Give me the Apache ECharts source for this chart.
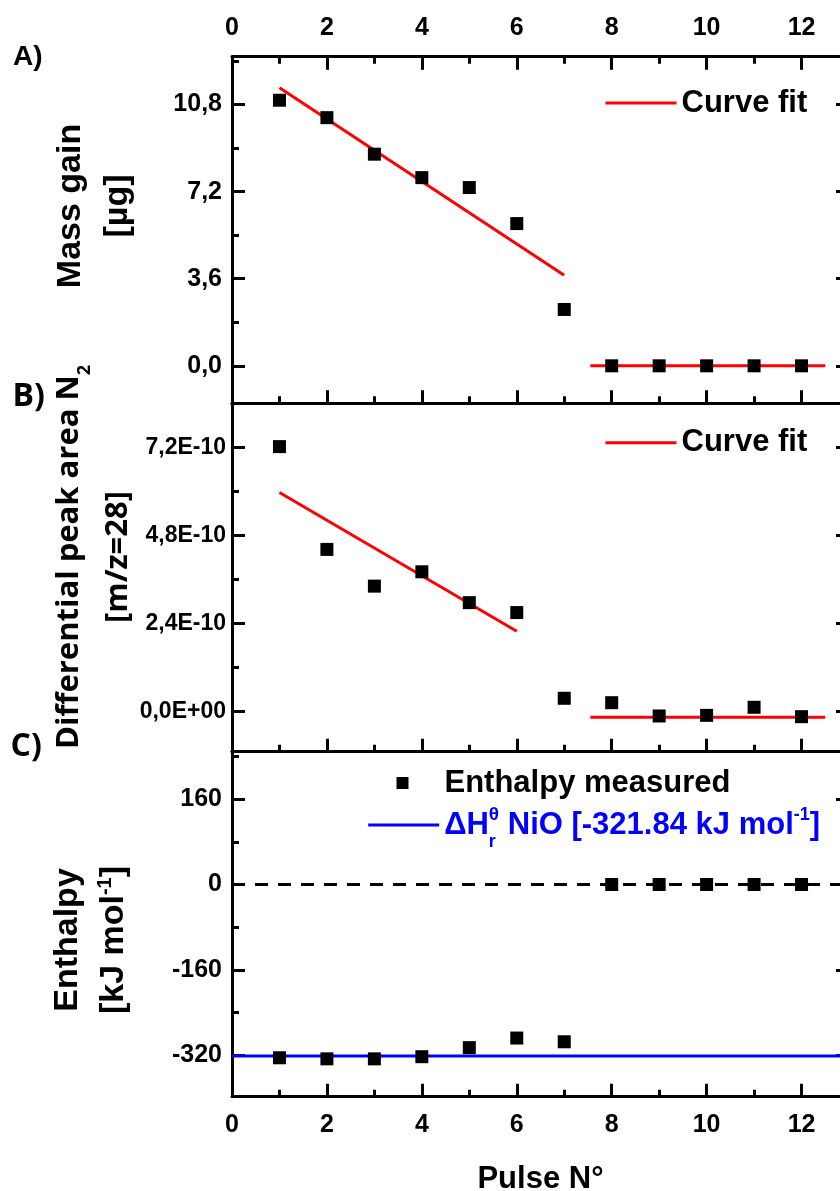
<!DOCTYPE html>
<html>
<head>
<meta charset="utf-8">
<script src="https://cdn.jsdelivr.net/npm/echarts@6/dist/echarts.min.js"></script>
<style>
  html, body { margin: 0; padding: 0; overflow: hidden; background: #fff; width: 840px; height: 1191px; }
  #chart { width: 870px; height: 1191px; }
</style>
</head>
<body>
<div id="chart"></div>
<script>
// ---- data ----
const pulses = [1, 2, 3, 4, 5, 6, 7, 8, 9, 10, 11, 12];

// A) mass gain per pulse [µg]
const massGain = [10.98, 10.26, 8.75, 7.78, 7.37, 5.88, 2.33, 0, 0, 0, 0, 0];
const massFitDecay = [[1, 11.5], [7, 3.74]];
const massFitPlateau = [[7.55, 0], [12.5, 0]];

// B) differential N2 peak area (m/z = 28)
const n2Area = [7.22e-10, 4.42e-10, 3.42e-10, 3.81e-10, 2.97e-10, 2.70e-10,
                0.365e-10, 0.245e-10, -0.117e-10, -0.10e-10, 0.12e-10, -0.136e-10];
const n2FitDecay = [[1, 5.97e-10], [6, 2.19e-10]];
const n2FitPlateau = [[7.55, -0.153e-10], [12.5, -0.153e-10]];

// C) measured enthalpy [kJ/mol] and the NiO reference value
const enthalpy = [-325, -327, -327, -323, -306, -288, -295, 0, 0, 0, 0, 0];
const nioEnthalpy = -321.84;
const zeroLine = [[0, 0], [13, 0]];
const nioLine = [[0, nioEnthalpy], [13, nioEnthalpy]];

// tick values
const xMajor = [0, 2, 4, 6, 8, 10, 12];
const xMinor = [1, 3, 5, 7, 9, 11];
const massMajor = [0, 3.6, 7.2, 10.8];
const massMinor = [1.8, 5.4, 9.0, 12.6];
const areaMajor = [0, 2.4e-10, 4.8e-10, 7.2e-10];
const areaMinor = [1.2e-10, 3.6e-10, 6.0e-10];
const enthalpyMajor = [-320, -160, 0, 160];
const enthalpyMinor = [-240, -80, 80, 240];

// ---- styling ----
const SANS = '"Liberation Sans", Arial, sans-serif';
const OPEN = '"Open Sans", sans-serif';
const RED = '#ff0000';
const BLUE = '#0000ff';

const panels = [
  { top: 56.7, height: 346.6, yMin: -1.55, yMax: 12.78, major: massMajor, minor: massMinor,
    fmt: v => v.toFixed(1).replace('.', ','), labelSize: 25, labelMargin: 10,
    topTicks: true, topLabels: true, bottomLabels: false },
  { top: 403.3, height: 348.4, yMin: -1.09e-10, yMax: 8.40e-10, major: areaMajor, minor: areaMinor,
    fmt: v => Math.abs(v) < 1e-14 ? '0,0E+00' : (v * 1e10).toFixed(1).replace('.', ',') + 'E-10',
    labelSize: 23, labelMargin: 6,
    topTicks: false, topLabels: false, bottomLabels: false },
  { top: 751.7, height: 345, yMin: -398, yMax: 249, major: enthalpyMajor, minor: enthalpyMinor,
    fmt: v => String(Math.round(v)), labelSize: 25, labelMargin: 10,
    topTicks: false, topLabels: false, bottomLabels: true }
];

const black3 = { color: '#000', width: 3 };

function makeX(grid, position, ticks, len, showTicks, showLabels, showLine, extra) {
  return Object.assign({
    type: 'value', gridIndex: grid, position: position, min: 0, max: 13,
    axisLine: { show: showLine, onZero: false, lineStyle: black3 },
    axisTick: { show: showTicks, inside: true, length: len, customValues: ticks, lineStyle: black3 },
    axisLabel: { show: showLabels, customValues: ticks, margin: 16, color: '#000',
                 fontFamily: SANS, fontWeight: 'bold', fontSize: 25 },
    splitLine: { show: false }, minorTick: { show: false }
  }, extra || {});
}

function makeY(grid, p, position, ticks, len, showLabels, showLine) {
  return {
    type: 'value', gridIndex: grid, position: position, min: p.yMin, max: p.yMax,
    axisLine: { show: showLine, onZero: false, lineStyle: black3 },
    axisTick: { show: true, inside: true, length: len, customValues: ticks, lineStyle: black3 },
    axisLabel: { show: showLabels, customValues: ticks, margin: p.labelMargin, color: '#000',
                 fontFamily: SANS, fontWeight: 'bold', fontSize: p.labelSize, formatter: p.fmt },
    splitLine: { show: false }, minorTick: { show: false }
  };
}

const grids = [], xAxes = [], yAxes = [];
panels.forEach((p, g) => {
  grids.push({ left: 232, width: 617, top: p.top, height: p.height, outerBoundsMode: 'none' });
  // x axes: top major, top minor, bottom major, bottom minor
  xAxes.push(makeX(g, 'top', xMajor, 13, p.topTicks, p.topLabels, true));
  xAxes.push(makeX(g, 'top', xMinor, 7, p.topTicks, false, false));
  xAxes.push(makeX(g, 'bottom', xMajor, 13, true, p.bottomLabels, true,
    g === 2 ? { name: 'Pulse N°', nameLocation: 'middle', nameGap: 67, nameMoveOverlap: false,
                nameTextStyle: { color: '#000', fontFamily: SANS, fontWeight: 'bold', fontSize: 31 } } : null));
  xAxes.push(makeX(g, 'bottom', xMinor, 7, true, false, false));
  // y axes: left major, left minor, right major, right minor
  yAxes.push(makeY(g, p, 'left', p.major, 13, true, true));
  yAxes.push(makeY(g, p, 'left', p.minor, 7, false, false));
  yAxes.push(makeY(g, p, 'right', p.major, 13, false, true));
  yAxes.push(makeY(g, p, 'right', p.minor, 7, false, false));
});

const xi = g => 4 * g + 2;
const yi = g => 4 * g;
const pairs = vals => pulses.map((x, i) => [x, vals[i]]);

function squares(name, g, vals) {
  return { type: 'scatter', name: name, xAxisIndex: xi(g), yAxisIndex: yi(g), data: pairs(vals),
           symbol: 'rect', symbolSize: 13, itemStyle: { color: '#000', opacity: 1 }, z: 5 };
}
function segment(name, g, pts, color, width, dash) {
  return { type: 'line', name: name, xAxisIndex: xi(g), yAxisIndex: yi(g), data: pts,
           symbol: 'none', showSymbol: false, itemStyle: { color: color },
           lineStyle: { color: color, width: width, type: dash || 'solid', cap: 'butt' }, z: 3 };
}

const series = [
  segment('Curve fit', 0, massFitDecay, RED, 3),
  segment('Curve fit', 0, massFitPlateau, RED, 3),
  squares('Mass gain', 0, massGain),
  segment('Curve fit', 1, n2FitDecay, RED, 3),
  segment('Curve fit', 1, n2FitPlateau, RED, 3),
  squares('N2 area', 1, n2Area),
  segment('zero', 2, zeroLine, '#000', 3, [13, 10]),
  segment('ΔH NiO', 2, nioLine, BLUE, 3),
  squares('Enthalpy measured', 2, enthalpy)
];

const legendText = { color: '#000', fontFamily: SANS, fontWeight: 'bold', fontSize: 31, lineHeight: 32 };
const lineLegend = { itemWidth: 71, itemHeight: 14, padding: 0, selectedMode: false,
                     lineStyle: { width: 3 }, itemStyle: { opacity: 0 } };
const blueRich = {
  m: { color: BLUE, fontFamily: SANS, fontWeight: 'bold', fontSize: 31, lineHeight: 52 },
  r: { color: BLUE, fontFamily: SANS, fontWeight: 'bold', fontSize: 18, verticalAlign: 'bottom', width: 0 },
  t: { color: BLUE, fontFamily: SANS, fontWeight: 'bold', fontSize: 19, verticalAlign: 'top', padding: [6, 0, 0, 0] },
  p: { color: BLUE, fontFamily: SANS, fontWeight: 'bold', fontSize: 18, verticalAlign: 'top', padding: [7, 0, 0, 0] }
};

const legends = [
  Object.assign({ data: ['Curve fit'], left: 604, top: 87, textStyle: legendText }, lineLegend),
  Object.assign({ data: ['Curve fit'], left: 604, top: 426.7, textStyle: legendText }, lineLegend),
  { data: ['Enthalpy measured'], left: 396.5, top: 767, itemWidth: 12, itemHeight: 12, padding: 0,
    icon: 'rect', selectedMode: false,
    formatter: name => '{e|' + name + '}',
    textStyle: Object.assign({}, legendText, {
      rich: { e: { color: '#000', fontFamily: SANS, fontWeight: 'bold', fontSize: 31, lineHeight: 32, padding: [0, 0, 0, 31] } }
    }) },
  Object.assign({ data: ['ΔH NiO'], left: 366.7, top: 805,
    formatter: () => '{m|ΔH}{r|r}{t|θ}{m| NiO [-321.84 kJ mol}{p|-1}{m|]}',
    textStyle: { color: BLUE, fontFamily: SANS, fontWeight: 'bold', fontSize: 31, rich: blueRich } }, lineLegend)
];

const graphic = [
  { type: 'text', x: 13, y: 57, style: { text: 'A)', fontFamily: SANS, fontWeight: 'bold', fontSize: 28,
      fill: '#000', align: 'left', verticalAlign: 'middle' } },
  { type: 'text', x: 12.5, y: 396.5, style: { text: 'B)', fontFamily: OPEN, fontWeight: 'bold', fontSize: 32,
      fill: '#000', align: 'left', verticalAlign: 'middle' } },
  { type: 'text', x: 10.5, y: 746.5, style: { text: 'C)', fontFamily: OPEN, fontWeight: 'bold', fontSize: 32,
      fill: '#000', align: 'left', verticalAlign: 'middle' } },
  { type: 'text', x: 94.4, y: 206, rotation: Math.PI / 2,
    style: { text: 'Mass gain\n[µg]', fontFamily: SANS, fontWeight: 'bold', fontSize: 34, lineHeight: 47,
      fill: '#000', align: 'center', verticalAlign: 'middle' } },
  { type: 'text', x: 93.5, y: 557, rotation: Math.PI / 2,
    style: { text: '{t|Differential peak area N}{s|2}\n{t|[m/z=28]}', align: 'center', verticalAlign: 'middle',
      rich: {
        t: { fontFamily: OPEN, fontWeight: 'bold', fontSize: 31, lineHeight: 49, fill: '#000' },
        s: { fontFamily: OPEN, fontWeight: 'bold', fontSize: 18, lineHeight: 12, verticalAlign: 'bottom', fill: '#000' }
      } } },
  { type: 'text', x: 90.5, y: 940, rotation: Math.PI / 2,
    style: { text: '{t|Enthalpy}\n{t|[kJ mol}{p|-1}{t|]}', align: 'center', verticalAlign: 'middle',
      rich: {
        t: { fontFamily: SANS, fontWeight: 'bold', fontSize: 34, lineHeight: 46, fill: '#000' },
        p: { fontFamily: SANS, fontWeight: 'bold', fontSize: 20, lineHeight: 14, padding: [5, 0, 0, 0], verticalAlign: 'top', fill: '#000' }
      } } }
];

const chart = echarts.init(document.getElementById('chart'), null, { renderer: 'canvas' });
chart.setOption({
  backgroundColor: '#fff',
  animation: false,
  grid: grids,
  xAxis: xAxes,
  yAxis: yAxes,
  legend: legends,
  graphic: graphic,
  series: series
});
</script>
</body>
</html>
